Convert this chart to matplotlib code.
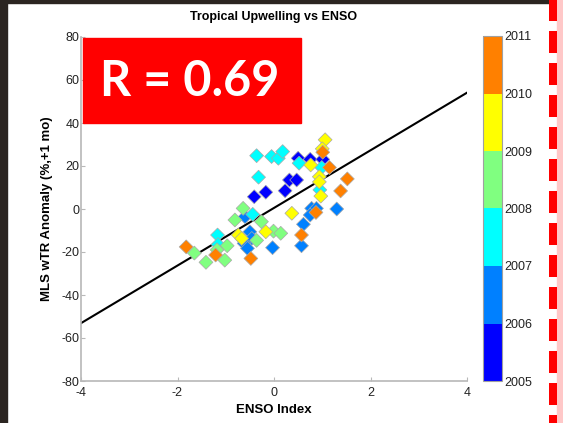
import matplotlib
matplotlib.use("Agg")
import matplotlib.pyplot as plt
import numpy as np
from matplotlib.colors import ListedColormap, BoundaryNorm
from matplotlib.patches import Rectangle
from matplotlib.lines import Line2D

plt.rcParams['font.family'] = ['Liberation Sans', 'DejaVu Sans']
plt.rcParams['lines.scale_dashes'] = False
plt.rcParams['axes.unicode_minus'] = False

# ENSO index, upwelling anomaly (%), year of each month
enso = [-0.41, -0.17, 0.23, 0.32, 0.47, 0.50, 0.75, 1.01,
        -0.60, -0.50, -0.46, -0.62, -0.55, -0.03, 0.61, 0.57, 0.78, 0.88, 0.75, 1.30,
        -1.17, -1.16, -0.36, -0.05, 0.09, 0.18, -0.32, -0.44, 0.52, 0.99, 0.95,
        -1.65, -1.41, -1.02, -0.97, -1.18, -0.81, -0.64, -0.26, -0.36, -0.01, 0.14,
        -0.74, -0.67, -0.17, 0.37, 0.76, 1.06, 1.00, 0.94, 0.94, 0.97,
        -1.82, -1.21, -0.48, 0.57, 0.87, 1.01, 1.15, 1.52, 1.38]
anomaly = [5.7, 7.8, 8.5, 13.5, 13.5, 23.6, 23.1, 23.1,
           -3.6, -10.6, -13.7, -16.0, -18.3, -18.0, -7.1, -17.1, 0.3, 0.3, -2.8, 0.0,
           -12.1, -16.5, 24.8, 24.4, 23.6, 26.7, 14.8, -2.5, 21.3, 19.3, 8.9,
           -20.5, -24.8, -23.8, -17.1, -19.0, -5.1, 0.3, -5.9, -14.6, -10.3, -11.3,
           -12.1, -13.7, -10.6, -2.0, 20.5, 32.2, 28.0, 15.0, 12.6, 6.0,
           -17.6, -21.4, -23.0, -12.1, -1.6, 26.4, 19.3, 14.0, 8.4]
year = ([2005.5] * 8 + [2006.5] * 12 + [2007.5] * 11 + [2008.5] * 11 +
        [2009.5] * 10 + [2010.5] * 9)

fit_slope = 13.4
fit_intercept = 0.5
r_value = 0.69

year_bounds = [2005, 2006, 2007, 2008, 2009, 2010, 2011]
jet6 = [(0, 0, 1), (0, 0.5, 1), (0, 1, 1), (0.5, 1, 0.5), (1, 1, 0), (1, 0.5, 0)]

W, H = 563, 423
fig = plt.figure(figsize=(W / 100, H / 100), dpi=100)
fig.patch.set_facecolor('white')

# dark frame of the slide
fig.patches.append(Rectangle((0, 0), 7 / W, 1, transform=fig.transFigure,
                             color='#2b2521', zorder=0))
fig.patches.append(Rectangle((0, 1 - 3 / H), 549 / W, 3 / H, transform=fig.transFigure,
                             color='#2b2521', zorder=0))
fig.patches.append(Rectangle((557 / W, 0), 6 / W, 1, transform=fig.transFigure,
                             color='#ffc8c8', zorder=0))
fig.lines.append(Line2D([553 / W, 553 / W], [1 + 1 / H, 0], transform=fig.transFigure,
                        color='#ff0000', lw=8 * 0.72, dashes=(22 * 0.72, 10 * 0.72),
                        solid_capstyle='butt', dash_capstyle='butt'))

ax = fig.add_axes([81 / W, 1 - 381 / H, 386 / W, 344 / H])
cmap = ListedColormap(jet6)
norm = BoundaryNorm(year_bounds, cmap.N)

xs = np.array([-4, 4])
ax.plot(xs, fit_slope * xs + fit_intercept, color='black', lw=1.5, zorder=2)
ax.scatter(enso, anomaly, c=year, cmap=cmap, norm=norm, marker='D', s=50,
           edgecolors='#a8a8a8', linewidths=0.5, zorder=3)

ax.set_xlim(-4, 4)
ax.set_ylim(-80, 80)
ax.set_xticks([-4, -2, 0, 2, 4])
ax.set_yticks(np.arange(-80, 81, 20))
for s in ['top', 'right']:
    ax.spines[s].set_visible(False)
for s in ['left', 'bottom']:
    ax.spines[s].set_color('#b8b8b8')
    ax.spines[s].set_linewidth(1.2)
ax.tick_params(direction='in', length=3, color='#b8b8b8', labelsize=9,
               labelcolor='#222222')
ax.tick_params(axis='y', pad=1)
ax.tick_params(axis='x', pad=4)
ax.set_title('Tropical Upwelling vs ENSO', fontsize=9, fontweight='bold', pad=12)
ax.set_xlabel('ENSO Index', fontsize=9.5, fontweight='bold', labelpad=4)
ax.set_ylabel('MLS wTR Anomaly (%,+1 mo)', fontsize=9.5, fontweight='bold', labelpad=6)

cax = fig.add_axes([483 / W, 1 - 381 / H, 19 / W, 345 / H])
sm = matplotlib.cm.ScalarMappable(norm=norm, cmap=cmap)
cb = fig.colorbar(sm, cax=cax, ticks=year_bounds)
cb.outline.set_edgecolor('#a0a0a0')
cb.outline.set_linewidth(0.8)
cax.tick_params(length=0, labelsize=9, labelcolor='#222222', pad=2)

# red correlation box
fig.patches.append(Rectangle((83 / W, 1 - 123 / H), 218 / W, 85 / H,
                             transform=fig.transFigure, color='#ff0000', zorder=5))
fig.text(190 / W, 1 - 81 / H, f'R = {r_value}', color='white', fontsize=35,
         fontweight='bold', family=['Lato', 'DejaVu Sans'], ha='center', va='center',
         zorder=6)

fig.savefig('out.png', dpi=100)
